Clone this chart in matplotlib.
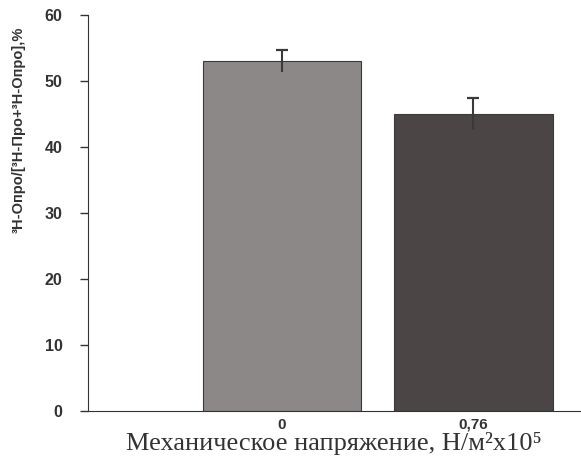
import numpy as np
import matplotlib
matplotlib.use("Agg")
import matplotlib.pyplot as plt
from matplotlib.transforms import ScaledTranslation

# данные
labels = ["0", "0,76"]
values = np.array([53.0, 45.0])
errors = np.array([1.7, 2.4])
colors = ["#8c8888", "#4b4545"]

fig = plt.figure(figsize=(5.81, 4.68), dpi=100)
ax = fig.add_axes([0.151, 0.122, 0.849, 0.846])

x = np.arange(len(values))
ax.bar(x, values, width=0.825, color=colors, edgecolor="#3a3a3a", linewidth=0.8)
# планки погрешности: линия +-SE, колпачок только сверху
ax.vlines(x, values - errors, values + errors, color="#3a3a3a", lw=1.5)
ax.plot(x, values + errors, ls="none", marker="_", ms=9, mew=1.6, color="#3a3a3a")

ax.set_xlim(-1.013, 1.561)
ax.set_ylim(0, 60)
ax.set_yticks(range(0, 61, 10))
ax.set_xticks(x)
ax.set_xticklabels(labels, fontweight="bold", fontsize=11, color="#333333",
                   family="Liberation Sans")
# вторая подпись сдвинута вправо, как в оригинале
lab2 = ax.get_xticklabels()[1]
lab2.set_transform(lab2.get_transform() + ScaledTranslation(0.40, 0, fig.dpi_scale_trans))
ax.tick_params(axis="x", length=0, pad=5)
ax.tick_params(axis="y", direction="out", length=6, width=1, color="#333333",
               labelsize=11.5, labelcolor="#333333", pad=12)
for t in ax.get_yticklabels():
    t.set_fontweight("bold")
    t.set_family("Liberation Sans")

ax.spines["top"].set_visible(False)
ax.spines["right"].set_visible(False)
ax.spines["left"].set_color("#333333")
ax.spines["bottom"].set_color("#333333")

ax.set_ylabel("³H-Опро/[³H-Про+³H-Опро],%", fontweight="bold", fontsize=10.5,
              color="#333333", family="Liberation Sans")
ax.yaxis.set_label_coords(-0.125, 0.71)
ax.set_xlabel("Механическое напряжение, Н/м²x10⁵", fontsize=19,
              color="#333333", family="Liberation Serif", labelpad=0)

plt.savefig("out.png", dpi=100)
